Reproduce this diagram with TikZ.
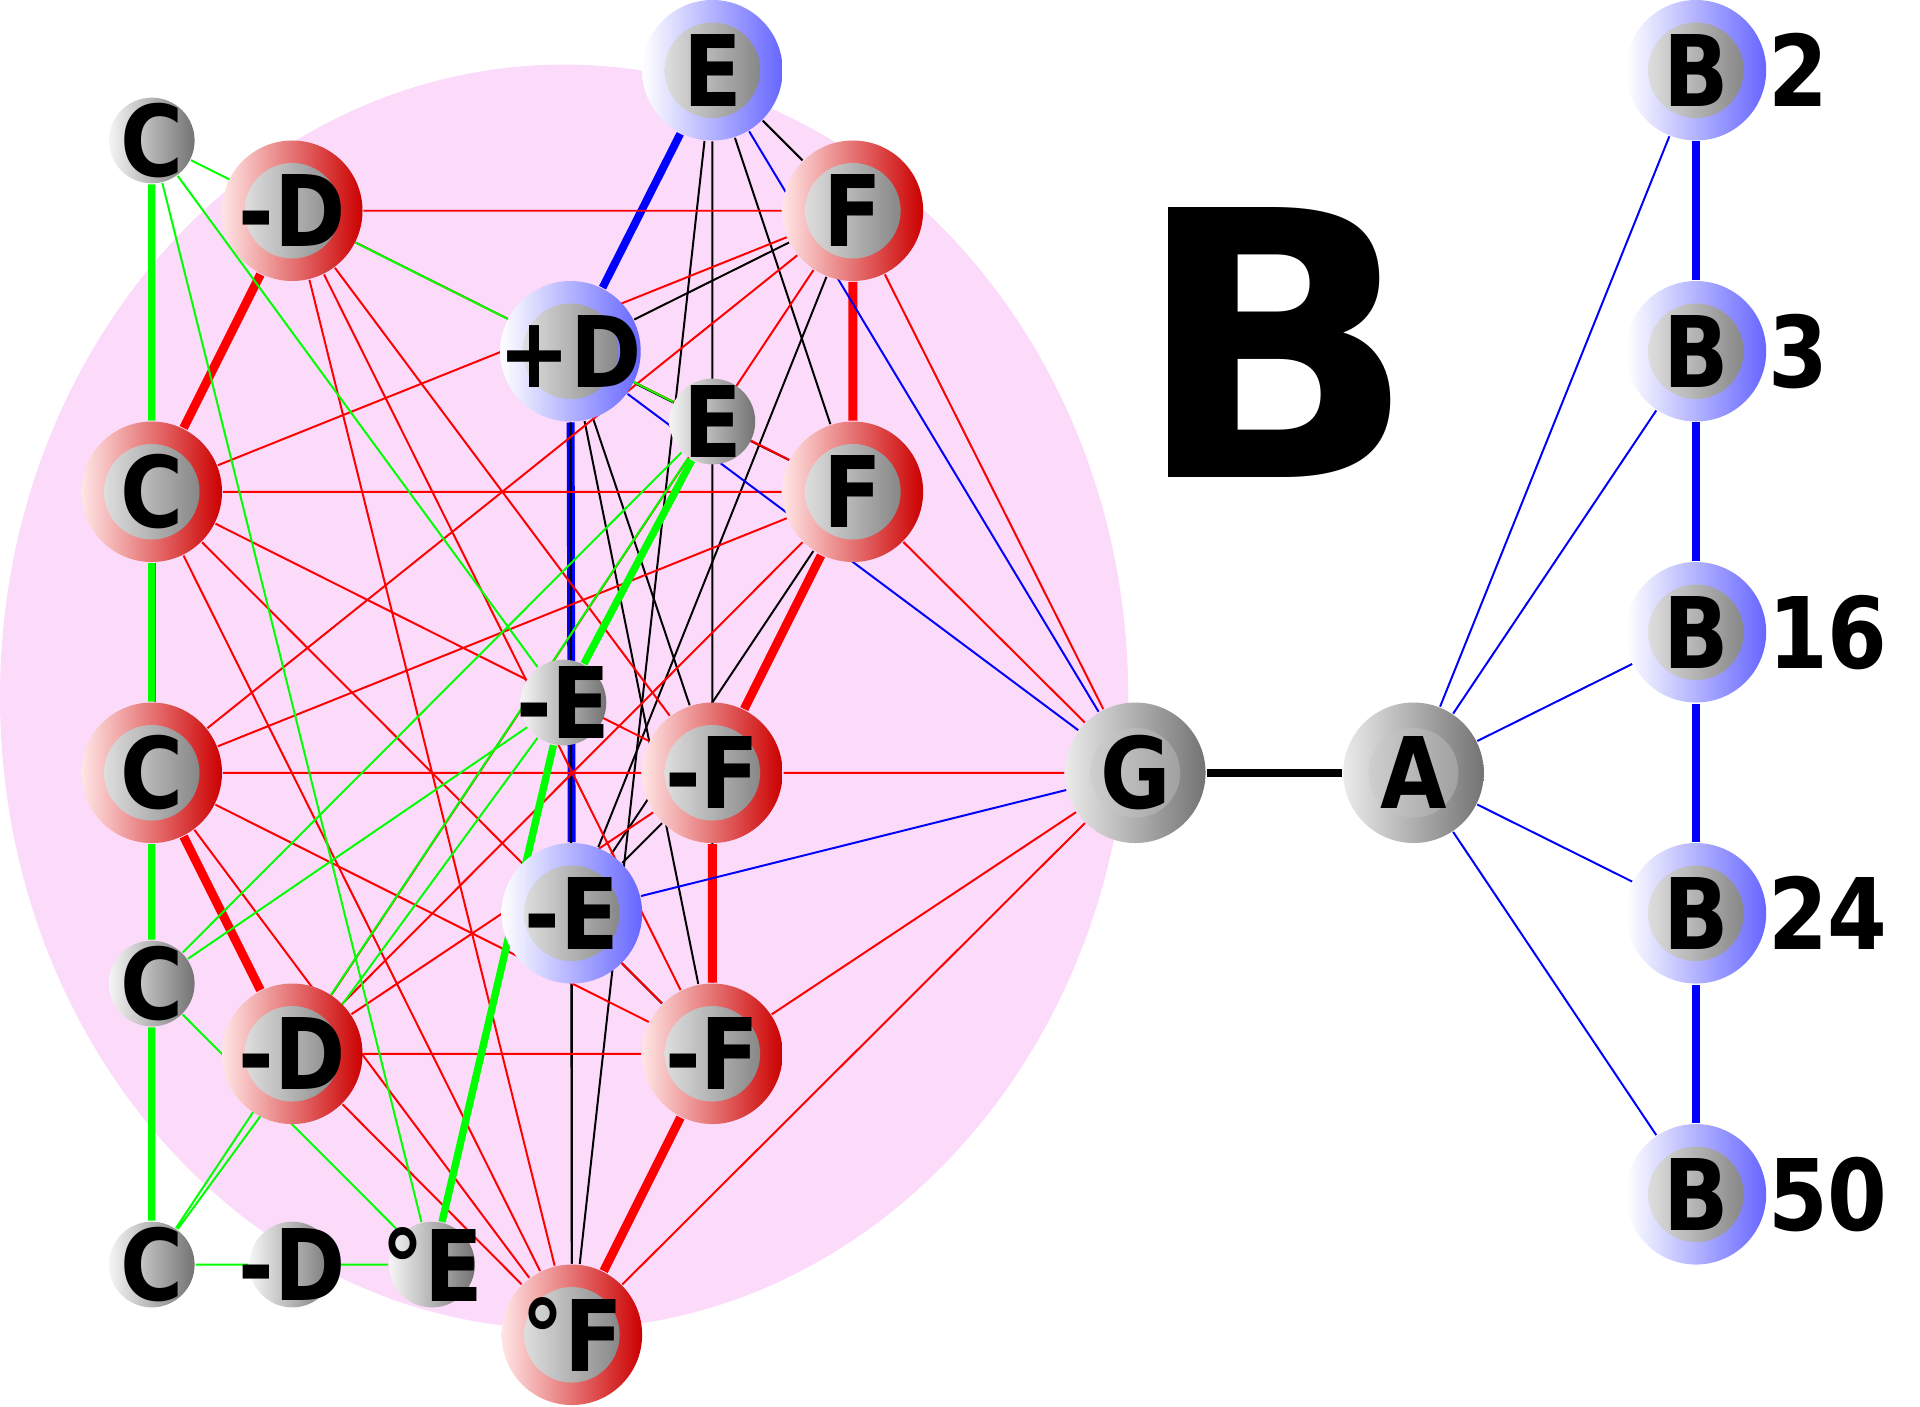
\documentclass[tikz,border=0pt]{standalone}
\usepackage{fontspec}
\usetikzlibrary{backgrounds}
\newfontfamily\lblfont{DejaVu Sans}[FakeStretch=0.87]
\newfontfamily\bigfont{DejaVu Sans}
\definecolor{pinkbg}{RGB}{252,218,250}
\newcommand\lbox[1]{\makebox[0pt]{#1}}

\begin{document}
\begin{tikzpicture}[
    lbl/.style={font=\lblfont\bfseries\fontsize{20}{20}\selectfont},
    disc/.style={circle, inner sep=0pt, lbl},
    core/.style={path picture={\shade[left color=black!5, right color=black!55]
        (path picture bounding box.center) circle (0.34);}},
    rednode/.style={disc, core, minimum size=1cm, left color=red!10, right color=red!80!black},
    bluenode/.style={disc, core, minimum size=1cm, left color=white, right color=blue!60},
    graynode/.style={disc, minimum size=1cm, left color=black!8, right color=black!55,
        path picture={\shade[left color=black!14, right color=black!42]
        (path picture bounding box.center) circle (0.32);}},
    smallnode/.style={disc, minimum size=0.61cm, left color=black!4, right color=black!55},
    redln/.style={red, line width=0.4pt},
    redfat/.style={red, line width=1.8pt},
    grnln/.style={green, line width=0.4pt},
    grnfat/.style={green, line width=1.5pt},
    bluln/.style={blue, line width=0.4pt},
    blufat/.style={blue, line width=1.6pt},
    blkln/.style={black, line width=0.4pt},
    blkfat/.style={black, line width=1.6pt}
]
    \useasboundingbox (0,0) rectangle (13.665,-10.007);

    \node[smallnode] (c1) at (1.08,-1.0) {\lbox{C}};
    \node[rednode] (d1) at (2.08,-1.5) {\lbox{-D}};
    \node[bluenode] (et) at (5.07,-0.5) {\lbox{E}};
    \node[rednode] (f1) at (6.07,-1.5) {\lbox{F}};
    \node[bluenode] (pd) at (4.06,-2.5) {\lbox{+D}};
    \node[smallnode] (em) at (5.07,-3.0) {\lbox{E}};
    \node[rednode] (c2) at (1.08,-3.5) {\lbox{C}};
    \node[rednode] (f2) at (6.07,-3.5) {\lbox{F}};
    \node[smallnode] (me) at (4.01,-5.0) {\lbox{-E}};
    \node[rednode] (c3) at (1.08,-5.5) {\lbox{C}};
    \node[rednode] (mf1) at (5.07,-5.5) {\lbox{-F}};
    \node[bluenode] (me2) at (4.07,-6.5) {\lbox{-E}};
    \node[smallnode] (c4) at (1.08,-7.0) {\lbox{C}};
    \node[rednode] (md2) at (2.08,-7.5) {\lbox{-D}};
    \node[rednode] (mf2) at (5.07,-7.5) {\lbox{-F}};
    \node[smallnode] (c5) at (1.08,-9.0) {\lbox{C}};
    \node[smallnode] (md3) at (2.08,-9.0) {\lbox{-D}};
    \node[smallnode] (oe) at (3.075,-9.0) {\lbox{°E}};
    \node[rednode] (of) at (4.07,-9.5) {\lbox{°F}};

    \node[graynode] (g) at (8.08,-5.5) {\lbox{G}};
    \node[graynode] (a) at (10.06,-5.5) {\lbox{A}};

    \node[bluenode] (b2) at (12.07,-0.5) {\lbox{B}};
    \node[bluenode] (b3) at (12.07,-2.5) {\lbox{B}};
    \node[bluenode] (b16) at (12.07,-4.5) {\lbox{B}};
    \node[bluenode] (b24) at (12.07,-6.5) {\lbox{B}};
    \node[bluenode] (b50) at (12.07,-8.5) {\lbox{B}};
    \node[lbl, anchor=west, inner sep=0pt] (n2) at (b2.east) {2};
    \node[lbl, anchor=west, inner sep=0pt] (n3) at (b3.east) {3};
    \node[lbl, anchor=west, inner sep=0pt] (n16) at (b16.east) {16};
    \node[lbl, anchor=west, inner sep=0pt] (n24) at (b24.east) {24};
    \node[lbl, anchor=west, inner sep=0pt] (n50) at (b50.east) {50};

    \node[font=\bigfont\bfseries\fontsize{75}{75}\selectfont, inner sep=0pt] (bigb) at (9.08,-2.44) {B};

    \begin{pgfonlayer}{background}
        \fill[pinkbg] (4.015,-4.96) ellipse (4.015 and 4.5);

        \draw[blufat] (et) -- (pd) (pd) -- (me2);

        \draw[blkln] (et) -- (f1) (et) -- (f2) (et) -- (mf1) (et) -- (mf2) (et) -- (of);
        \draw[blkln] (pd) -- (f1) (pd) -- (f2) (pd) -- (mf1) (pd) -- (mf2) (pd) -- (of);
        \draw[blkln] (me2) -- (f1) (me2) -- (f2) (me2) -- (mf1) (me2) -- (mf2) (me2) -- (of);

        \draw[redln] (d1) -- (f1) (d1) -- (f2) (d1) -- (mf1) (d1) -- (mf2) (d1) -- (of);
        \draw[redln] (c2) -- (f1) (c2) -- (f2) (c2) -- (mf1) (c2) -- (mf2) (c2) -- (of);
        \draw[redln] (c3) -- (f1) (c3) -- (f2) (c3) -- (mf1) (c3) -- (mf2) (c3) -- (of);
        \draw[redln] (md2) -- (f1) (md2) -- (f2) (md2) -- (mf1) (md2) -- (mf2) (md2) -- (of);
        \draw[redln] (f1) -- (g) (f2) -- (g) (mf1) -- (g) (mf2) -- (g) (of) -- (g);
        \draw[redln] ([xshift=0.7pt]c2.south) -- ([xshift=0.7pt]c3.north);
        \draw[redfat] (d1) -- (c2) (c3) -- (md2) (f1) -- (f2) -- (mf1) -- (mf2) -- (of);

        \draw[grnln] (c1) -- (em) (c1) -- (me) (c1) -- (oe);
        \draw[grnln] (c4) -- (em) (c4) -- (me) (c4) -- (oe);
        \draw[grnln] (c5) -- (em) (c5) -- (me) (c5) -- (md3) -- (oe);
        \draw[grnfat] (c1) -- (c2) -- (c3) -- (c4) -- (c5) (em) -- (me) -- (oe);

        \draw[bluln] (et) -- (g) (pd) -- (g) (me2) -- (g);
        \draw[blkfat] (g) -- (a);
        \draw[bluln] (a) -- (b2) (a) -- (b3) (a) -- (b16) (a) -- (b24) (a) -- (b50);
        \draw[blufat] (b2) -- (b3) -- (b16) -- (b24) -- (b50);
    \end{pgfonlayer}
\end{tikzpicture}
\end{document}
